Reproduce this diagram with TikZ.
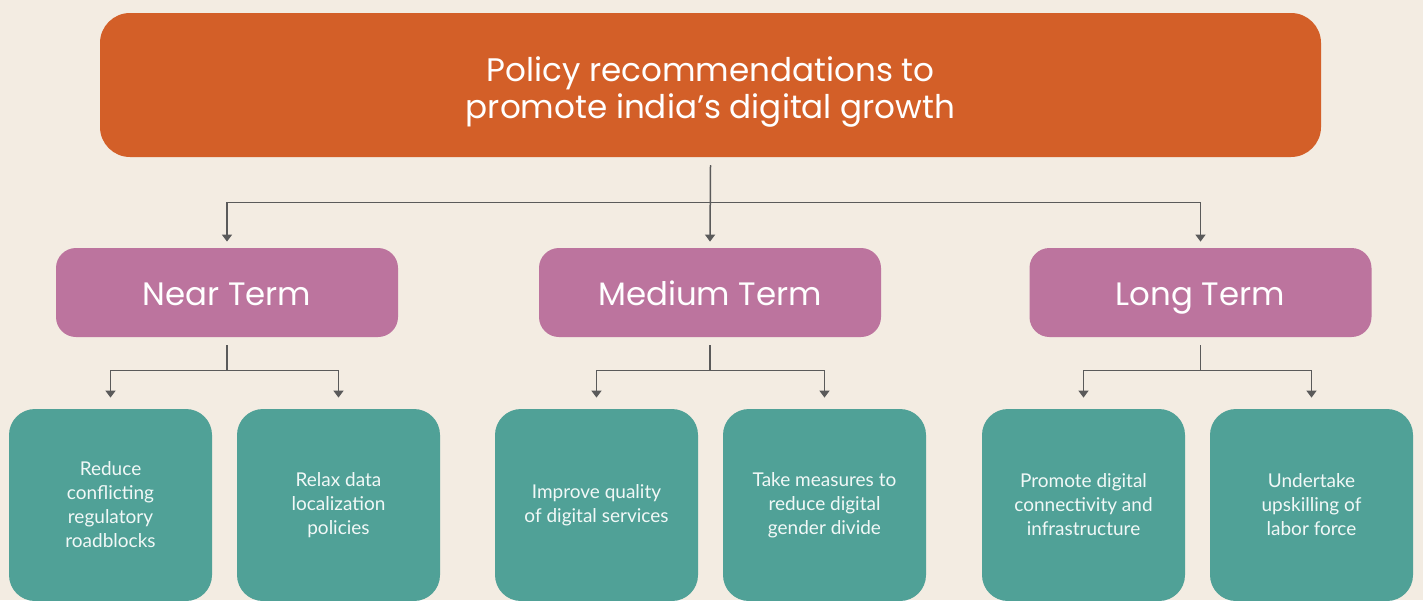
\documentclass[tikz,border=0pt]{standalone}
\usepackage{fontspec}
\setmainfont{Lato}
\newfontfamily\headfont{Poppins}
\usetikzlibrary{arrows.meta}
\definecolor{bgbeige}{HTML}{F3ECE2}
\definecolor{rust}{HTML}{D35F28}
\definecolor{mauve}{HTML}{BC749E}
\definecolor{tealbox}{HTML}{50A197}
\definecolor{linkgray}{HTML}{5A5A5A}
\begin{document}
\begin{tikzpicture}[x=0.5pt,y=-0.5pt,
    headbox/.style={fill=rust,text=white,rounded corners=15pt,minimum width=610.5pt,
      minimum height=72pt,align=center,inner sep=0pt,text height=33pt,text depth=0pt,
      font=\headfont\fontsize{16.3}{18.5}\selectfont},
    termbox/.style={fill=mauve,text=white,rounded corners=10pt,minimum width=171pt,
      minimum height=44.5pt,inner sep=0pt,text height=13pt,text depth=0pt,
      font=\headfont\fontsize{16.2}{19}\selectfont},
    itembox/.style={fill=tealbox,text=white!92!tealbox,rounded corners=13pt,minimum width=101.5pt,
      minimum height=96pt,align=center,inner sep=0pt,font=\fontsize{9.5}{12}\selectfont},
    link/.style={draw=linkgray,line width=0.75pt,-{Triangle[width=5pt,length=3.5pt]}}]
        % page background
        \fill[bgbeige] (0,0) rectangle (1423,600);
        \useasboundingbox (0,0) rectangle (1423,600);
        % heading
        \node[headbox] (title) at (710.5,85) {Policy recommendations to\\promote india’s digital growth};
        % the three horizons
        \node[termbox] (near) at (227,292.5) {Near Term};
        \node[termbox] (medium) at (710,292.5) {Medium Term};
        \node[termbox] (long) at (1200.5,292.5) {Long Term};
        % actions under each horizon
        \node[itembox] (reduce) at (110.5,505) {Reduce\\conflicting\\regulatory\\roadblocks};
        \node[itembox] (relax) at (338.5,505) {Relax data\\localization\\policies};
        \node[itembox] (improve) at (596.5,505) {Improve quality\\of digital services};
        \node[itembox] (gender) at (824.5,505) {Take measures to\\reduce digital\\gender divide};
        \node[itembox] (connect) at (1083.5,505) {Promote digital\\connectivity and\\infrastructure};
        \node[itembox] (upskill) at (1311.5,505) {Undertake\\upskilling of\\labor force};
        % heading to horizons
        \draw[link] ([yshift=-4pt]title.south) -- ++(0,37) -| ([yshift=3pt]near.north);
        \draw[link] ([yshift=-4pt]title.south) -- ([yshift=3pt]medium.north);
        \draw[link] ([yshift=-4pt]title.south) -- ++(0,37) -| ([yshift=3pt]long.north);
        % horizons to actions
        \draw[link] ([yshift=-4pt]near.south) -- ++(0,25) -| ([yshift=5.5pt]reduce.north);
        \draw[link] ([yshift=-4pt]near.south) -- ++(0,25) -| ([yshift=5.5pt]relax.north);
        \draw[link] ([yshift=-4pt]medium.south) -- ++(0,25) -| ([yshift=5.5pt]improve.north);
        \draw[link] ([yshift=-4pt]medium.south) -- ++(0,25) -| ([yshift=5.5pt]gender.north);
        \draw[link] ([yshift=-4pt]long.south) -- ++(0,25) -| ([yshift=5.5pt]connect.north);
        \draw[link] ([yshift=-4pt]long.south) -- ++(0,25) -| ([yshift=5.5pt]upskill.north);
\end{tikzpicture}
\end{document}
